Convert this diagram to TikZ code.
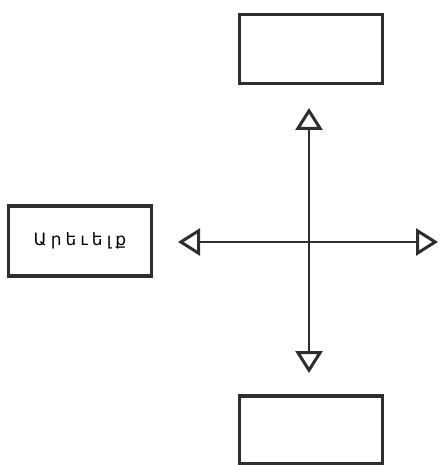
\documentclass[tikz,border=0pt]{standalone}
\usepackage{fontspec}
\newfontfamily\armfont[Script=Armenian]{DejaVu Sans}
\usetikzlibrary{arrows.meta}
\definecolor{ink}{HTML}{2E2E2E}
\tikzset{
  box/.style={draw=ink, line width=3.4pt, minimum width=#1, inner sep=0pt},
  box/.default={143pt},
  conn/.style={draw=ink, line width=1.7pt,
    {Triangle[open, length=22pt, width=27pt, line width=3pt]}-{Triangle[open, length=22pt, width=27pt, line width=3pt]}}
}
\begin{document}
\begin{tikzpicture}[x=1pt,y=-1pt]
\useasboundingbox (0,0) rectangle (440,465);
\node[box, minimum height=69pt] (top) at (311,49) {};
\node[box, minimum height=68pt] (bot) at (311,430) {};
\node[box, minimum height=70pt] (left) at (80,241) {\armfont\fontsize{17}{19}\selectfont\addfontfeature{LetterSpace=24}Արեւելք};
\coordinate (ut) at (309,108);
\coordinate (dt) at (309,373);
\coordinate (lt) at (178,242);
\coordinate (rt) at (438,242);
\draw[conn] (ut) -- (dt);
\draw[conn] (lt) -- (rt);
\end{tikzpicture}
\end{document}
